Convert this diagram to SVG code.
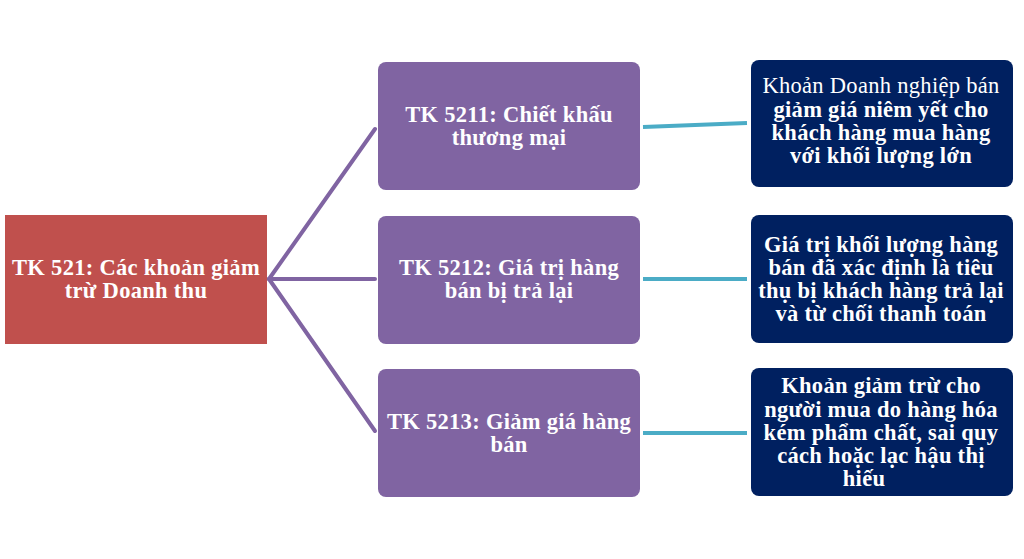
<svg xmlns="http://www.w3.org/2000/svg" width="1024" height="559" viewBox="0 0 1024 559">
<style>
.t{font-family:"Liberation Serif","DejaVu Serif",serif;font-weight:bold;font-size:22.5px;letter-spacing:0.3px;fill:#fff;text-anchor:middle}
.n{font-weight:normal}
.pc{stroke:#8064A2;stroke-width:4;fill:none;stroke-linecap:round}
.tc{stroke:#4BACC6;stroke-width:4;fill:none}
</style>
<rect width="1024" height="559" fill="#fff"/>
<g id="connectors">
<path class="pc" d="M269 279 L375 129"/>
<path class="pc" d="M269 279 L375 279"/>
<path class="pc" d="M269 279 L375 431"/>
<path class="tc" d="M643 127 L747 123"/>
<path class="tc" d="M643 279 L747 279"/>
<path class="tc" d="M643 433 L747 433"/>
</g>
<g id="root">
<rect x="5" y="215" width="262" height="129" fill="#C0504D"/>
<text class="t" x="136" y="275">TK 521: Các khoản giảm</text>
<text class="t" x="136" y="298">trừ Doanh thu</text>
</g>
<g id="tk5211">
<rect x="378" y="62" width="262" height="128" rx="8" fill="#8064A2"/>
<text class="t" x="509" y="122">TK 5211: Chiết khấu</text>
<text class="t" x="509" y="145">thương mại</text>
</g>
<g id="tk5212">
<rect x="378" y="216" width="262" height="128" rx="8" fill="#8064A2"/>
<text class="t" x="509" y="275">TK 5212: Giá trị hàng</text>
<text class="t" x="509" y="298">bán bị trả lại</text>
</g>
<g id="tk5213">
<rect x="378" y="369" width="262" height="128" rx="8" fill="#8064A2"/>
<text class="t" x="509" y="429">TK 5213: Giảm giá hàng</text>
<text class="t" x="509" y="452">bán</text>
</g>
<g id="desc1">
<rect x="751" y="60" width="262" height="127" rx="8" fill="#002060"/>
<text class="t n" x="881" y="93">Khoản Doanh nghiệp bán</text>
<text class="t" x="881" y="117">giảm giá niêm yết cho</text>
<text class="t" x="881" y="140">khách hàng mua hàng</text>
<text class="t" x="881" y="163">với khối lượng lớn</text>
</g>
<g id="desc2">
<rect x="751" y="215" width="262" height="128" rx="8" fill="#002060"/>
<text class="t" x="881" y="252">Giá trị khối lượng hàng</text>
<text class="t" x="881" y="275">bán đã xác định là tiêu</text>
<text class="t" x="881" y="298">thụ bị khách hàng trả lại</text>
<text class="t" x="881" y="321">và từ chối thanh toán</text>
</g>
<g id="desc3">
<rect x="751" y="368" width="262" height="128" rx="8" fill="#002060"/>
<text class="t" x="881" y="393">Khoản giảm trừ cho</text>
<text class="t" x="881" y="417">người mua do hàng hóa</text>
<text class="t" x="881" y="440">kém phẩm chất, sai quy</text>
<text class="t" x="881" y="463">cách hoặc lạc hậu thị</text>
<text class="t" x="864" y="486">hiếu</text>
</g>
</svg>
